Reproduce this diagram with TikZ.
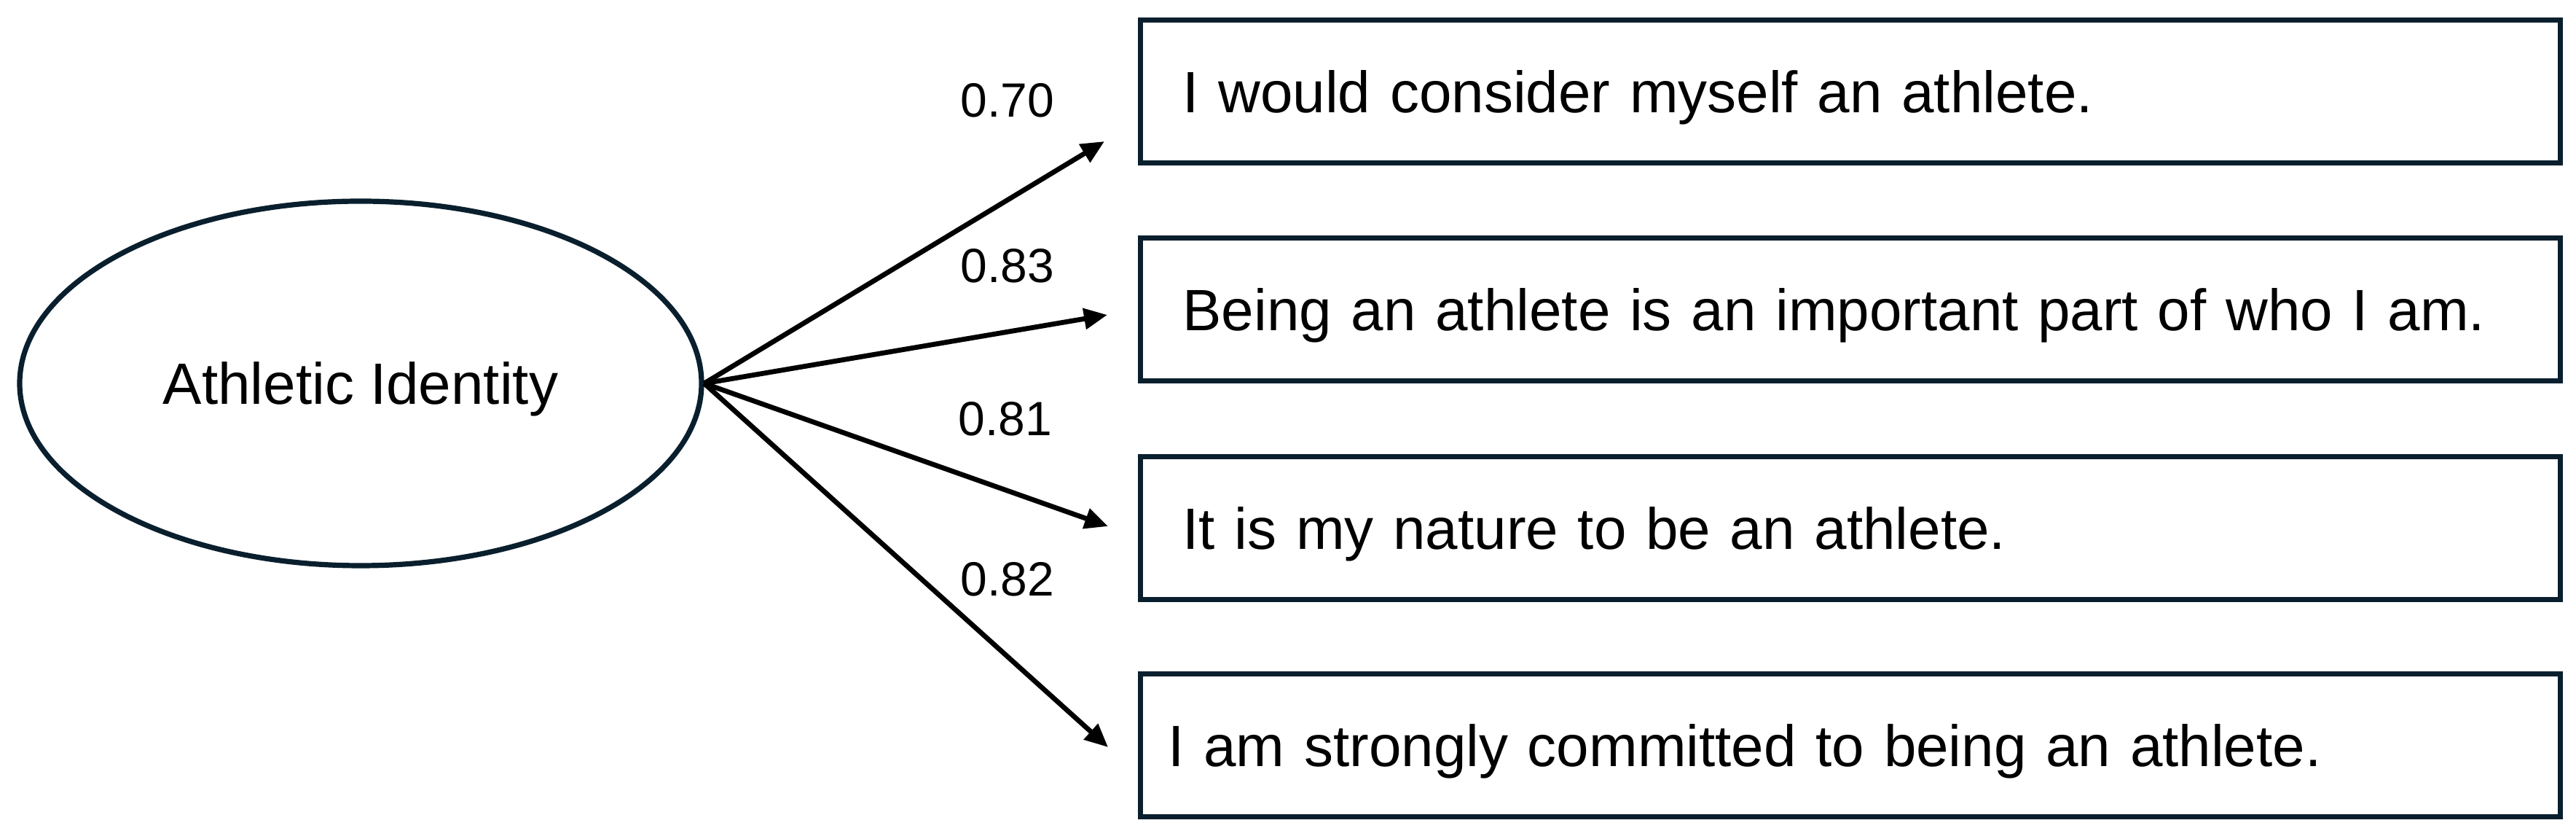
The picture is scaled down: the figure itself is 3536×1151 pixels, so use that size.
\documentclass[tikz,border=0pt]{standalone}
\usepackage{fontspec}
\setmainfont{Liberation Sans}
\usetikzlibrary{arrows.meta,shapes.geometric}
\definecolor{navy}{HTML}{0A1F2E}
\begin{document}
\begin{tikzpicture}[x=0.25pt,y=-0.25pt,
  itembox/.style={draw=navy, line width=1.8pt, rectangle, minimum width=487.25pt, minimum height=49pt, anchor=west, inner xsep=14.625pt, inner ysep=0pt, text width=458pt, align=left, text depth=0pt, font=\fontsize{20pt}{24pt}\selectfont},
  latent/.style={draw=navy, line width=1.8pt, ellipse, minimum width=234pt, minimum height=125pt, inner sep=0pt, text depth=0pt, font=\fontsize{20pt}{24pt}\selectfont},
  loadlbl/.style={font=\fontsize{16.5pt}{20pt}\selectfont, inner sep=0pt},
  loadarrow/.style={line width=1.7pt, -{Triangle[length=8pt,width=7pt]}}
]
\useasboundingbox (0,0) rectangle (3536,1151);
\node[latent] (ai) at (495,526) {Athletic Identity};
\node[itembox] (i1) at (1561.5,125.5) {I would consider myself an athlete.};
\node[itembox] (i2) at (1561.5,424.5) {Being an athlete is an important part of who I am.};
\node[itembox] (i3) at (1561.5,724.5) {It is my nature to be an athlete.};
\node[itembox, inner xsep=9.625pt, text width=468pt] (i4) at (1561.5,1022.5) {I am strongly committed to being an athlete.};
\coordinate (t1) at (1516,194);
\coordinate (t2) at (1520,432);
\coordinate (t3) at (1521,722);
\coordinate (t4) at (1521,1025);
\draw[loadarrow] (ai.east) -- (t1);
\draw[loadarrow] (ai.east) -- (t2);
\draw[loadarrow] (ai.east) -- (t3);
\draw[loadarrow] (ai.east) -- (t4);
\node[loadlbl] (l1) at (1383,138) {0.70};
\node[loadlbl] (l2) at (1383,365) {0.83};
\node[loadlbl] (l3) at (1380,575) {0.81};
\node[loadlbl] (l4) at (1383,795) {0.82};
\end{tikzpicture}
\end{document}
